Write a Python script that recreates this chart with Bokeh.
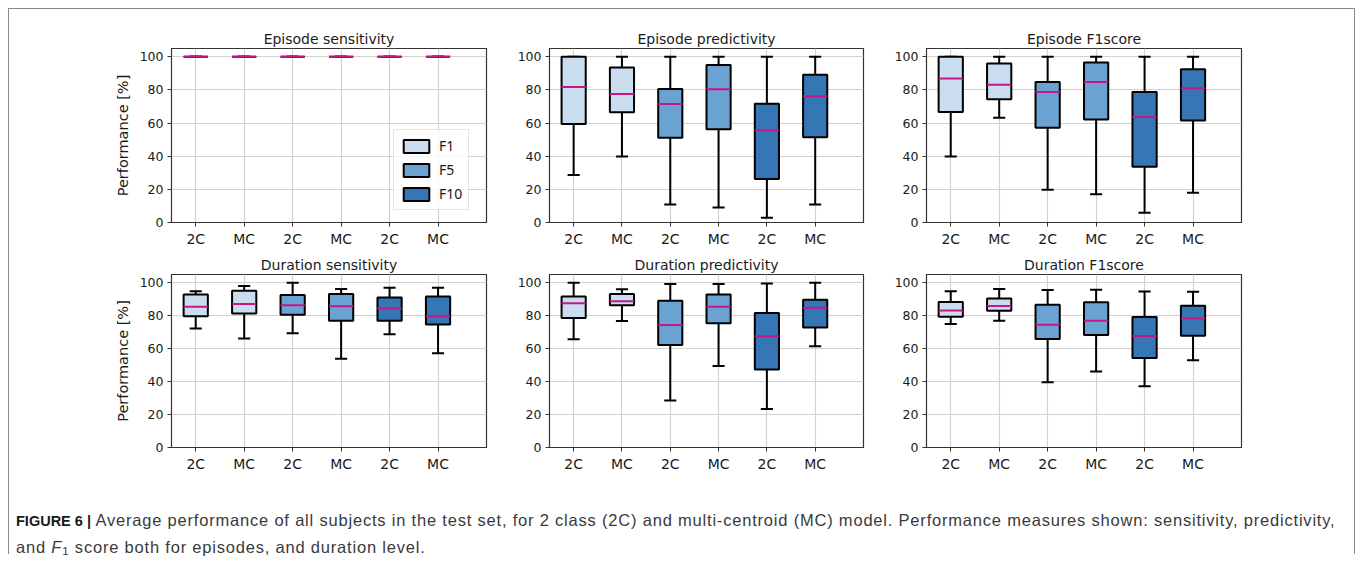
from bokeh.plotting import figure
from bokeh.layouts import row, column
from bokeh.models import (FixedTicker, ColumnDataSource, Div, Legend, LegendItem,
                          Range1d, CDSView, GroupFilter)
from bokeh.transform import dodge
from bokeh.embed import file_html
from bokeh.resources import INLINE

# ---------------- data ----------------
groups = ["2C", "MC", "2C", "MC", "2C", "MC"]
filters = ["F1", "F1", "F5", "F5", "F10", "F10"]
filter_names = ["F1", "F5", "F10"]
filter_colors = ["#c9ddef", "#6aa3d1", "#3676b4"]
yticks = [0, 20, 40, 60, 80, 100]

titles = ["Episode sensitivity", "Episode predictivity", "Episode F1score",
          "Duration sensitivity", "Duration predictivity", "Duration F1score"]

ep_sens_lo = [100, 100, 100, 100, 100, 100]
ep_sens_q1 = [100, 100, 100, 100, 100, 100]
ep_sens_med = [100, 100, 100, 100, 100, 100]
ep_sens_q3 = [100, 100, 100, 100, 100, 100]
ep_sens_hi = [100, 100, 100, 100, 100, 100]

ep_pred_lo = [28.7, 39.8, 10.9, 9.1, 2.8, 10.9]
ep_pred_q1 = [59.4, 66.5, 51.1, 56.2, 26.3, 51.5]
ep_pred_med = [81.8, 77.6, 71.5, 80.4, 55.6, 76.2]
ep_pred_q3 = [100, 93.5, 80.6, 95.0, 71.7, 89.1]
ep_pred_hi = [100, 100, 100, 100, 100, 100]

ep_f1_lo = [39.8, 63.2, 19.8, 17.0, 5.9, 18.0]
ep_f1_q1 = [66.7, 74.3, 57.2, 62.2, 33.7, 61.6]
ep_f1_med = [86.9, 83.2, 78.8, 84.8, 63.6, 81.0]
ep_f1_q3 = [100, 96.0, 84.8, 96.6, 78.8, 92.5]
ep_f1_hi = [100, 100, 100, 100, 100, 100]

du_sens_lo = [72.3, 66.1, 69.3, 53.9, 68.7, 57.2]
du_sens_q1 = [79.6, 81.4, 80.6, 77.0, 77.0, 74.7]
du_sens_med = [85.5, 87.1, 86.3, 85.7, 84.4, 79.6]
du_sens_q3 = [92.9, 95.2, 92.5, 93.1, 91.1, 91.7]
du_sens_hi = [94.9, 98.0, 100, 96.2, 97.0, 97.0]

du_pred_lo = [65.7, 76.8, 28.5, 49.5, 23.4, 61.4]
du_pred_q1 = [78.6, 86.3, 62.2, 75.4, 47.3, 72.9]
du_pred_med = [87.5, 88.7, 74.3, 85.5, 67.5, 84.8]
du_pred_q3 = [91.7, 93.1, 89.1, 92.9, 81.6, 89.7]
du_pred_hi = [100, 96.0, 99.2, 99.2, 99.6, 100]

du_f1_lo = [74.9, 77.0, 39.6, 46.1, 37.2, 52.9]
du_f1_q1 = [79.4, 83.0, 65.9, 68.3, 54.3, 67.9]
du_f1_med = [83.2, 85.9, 74.5, 77.0, 67.7, 78.4]
du_f1_q3 = [88.3, 90.5, 86.7, 88.1, 79.2, 86.1]
du_f1_hi = [94.9, 96.2, 95.6, 95.8, 94.7, 94.5]

panel_data = [
    (ep_sens_lo, ep_sens_q1, ep_sens_med, ep_sens_q3, ep_sens_hi),
    (ep_pred_lo, ep_pred_q1, ep_pred_med, ep_pred_q3, ep_pred_hi),
    (ep_f1_lo, ep_f1_q1, ep_f1_med, ep_f1_q3, ep_f1_hi),
    (du_sens_lo, du_sens_q1, du_sens_med, du_sens_q3, du_sens_hi),
    (du_pred_lo, du_pred_q1, du_pred_med, du_pred_q3, du_pred_hi),
    (du_f1_lo, du_f1_q1, du_f1_med, du_f1_q3, du_f1_hi),
]

positions = list(range(1, len(groups) + 1))

TXT = "#1a1a1a"
FONT = "DejaVu Sans"
MEDIAN = "#c71585"

# borders: (left, right, frame_w) per column, (top, bottom, frame_h) per row
col_borders = [(162, 24, 315), (39, 27, 314), (36, 113, 315)]
row_borders = [(39, 28, 174), (24, 30, 173)]


def make_panel(idx, legend=False):
    lo, q1, med, q3, hi = panel_data[idx]
    c = idx % 3
    r = idx // 3
    bl, br, fw = col_borders[c]
    bt, bb, fh = row_borders[r]
    p = figure(frame_width=fw, frame_height=fh,
               x_range=Range1d(0.5, 7.0), y_range=Range1d(0, 105),
               output_backend="svg", toolbar_location=None,
               min_border_left=bl, min_border_right=br,
               min_border_top=bt, min_border_bottom=bb,
               background_fill_color="white", border_fill_color=None)
    p.title.text = titles[idx]
    p.title.align = "center"
    p.title.text_font = FONT
    p.title.text_font_size = "14px"
    p.title.text_font_style = "normal"
    p.title.text_color = TXT
    p.title.standoff = 4

    p.outline_line_color = "#333333"
    p.outline_line_width = 1.2

    p.xaxis.ticker = FixedTicker(ticks=positions)
    p.xaxis.major_label_overrides = {pos: g for pos, g in zip(positions, groups)}
    p.yaxis.ticker = FixedTicker(ticks=yticks)
    for ax in (p.xaxis, p.yaxis):
        ax.axis_line_color = "#333333"
        ax.major_tick_line_color = "#333333"
        ax.major_tick_out = 4
        ax.major_tick_in = 0
        ax.minor_tick_line_color = None
        ax.major_label_text_font = FONT
        ax.major_label_text_color = TXT
    p.xaxis.major_label_text_font_size = "14px"
    p.xaxis.major_label_standoff = 4
    p.yaxis.major_label_text_font_size = "12.5px"
    p.yaxis.major_label_standoff = 4
    if c == 0:
        p.yaxis.axis_label = "Performance [%]"
        p.yaxis.axis_label_text_font = FONT
        p.yaxis.axis_label_text_font_size = "14.5px"
        p.yaxis.axis_label_text_font_style = "normal"
        p.yaxis.axis_label_text_color = TXT
        p.yaxis.axis_label_standoff = 6

    p.xgrid.grid_line_color = "#d2d2d2"
    p.ygrid.grid_line_color = "#d2d2d2"
    p.xgrid.grid_line_width = 1.2
    p.ygrid.grid_line_width = 1.2

    src = ColumnDataSource(dict(x=positions, lo=lo, q1=q1, med=med, q3=q3, hi=hi,
                                filt=filters))
    # whisker stems
    p.segment(x0="x", y0="lo", x1="x", y1="hi", source=src,
              line_color="black", line_width=2)
    # caps
    p.segment(x0=dodge("x", -0.125), y0="lo", x1=dodge("x", 0.125), y1="lo",
              source=src, line_color="black", line_width=2)
    p.segment(x0=dodge("x", -0.125), y0="hi", x1=dodge("x", 0.125), y1="hi",
              source=src, line_color="black", line_width=2)
    items = []
    for name, col in zip(filter_names, filter_colors):
        view = CDSView(filter=GroupFilter(column_name="filt", group=name))
        rr = p.vbar(x="x", width=0.5, bottom="q1", top="q3", source=src, view=view,
                    fill_color=col, line_color="black", line_width=2)
        items.append(LegendItem(label=name, renderers=[rr]))
    p.segment(x0=dodge("x", -0.25), y0="med", x1=dodge("x", 0.25), y1="med",
              source=src, line_color=MEDIAN, line_width=2)

    if legend:
        leg = Legend(items=items, location=(222, 12))
        leg.glyph_width = 32
        leg.glyph_height = 16
        leg.label_text_font = "Noto Sans"
        leg.label_text_font_size = "14px"
        leg.label_text_color = TXT
        leg.label_standoff = 7
        leg.label_height = 16
        leg.spacing = 5
        leg.padding = 6
        leg.margin = 0
        leg.border_line_color = "#cccccc"
        leg.border_line_width = 1
        leg.background_fill_alpha = 0.8
        p.add_layout(leg)
    return p


panels = [make_panel(i, legend=(i == 0)) for i in range(6)]

caption = Div(
    text=('<div style="padding:30px 0 0 7px; font-family:\'Liberation Sans\', Arial, sans-serif; '
          'font-size:16.5px; line-height:26px; white-space:nowrap; color:#3a3a3a; letter-spacing:0.8px;">'
          '<span style="font-weight:bold; color:#1a1a1a; font-size:14.5px; letter-spacing:0;">FIGURE 6 |</span> '
          'Average performance of all subjects in the test set, for 2 class (2C) and '
          'multi-centroid (MC) model. Performance measures shown: sensitivity, predictivity,<br>'
          'and <i>F</i><sub style="font-size:0.7em; line-height:0; vertical-align:-0.2em;">1</sub>'
          ' score both for episodes, and duration level.</div>'),
    width=1345, height=77, margin=0)

layout = column(row(*panels[:3]), row(*panels[3:]), caption,
                margin=(8, 0, 0, 8),
                styles={"border-top": "1px solid #8a8a8a",
                        "border-left": "1px solid #8a8a8a",
                        "border-right": "1px solid #8a8a8a"})

open("out.html", "w").write(file_html(layout, INLINE))
